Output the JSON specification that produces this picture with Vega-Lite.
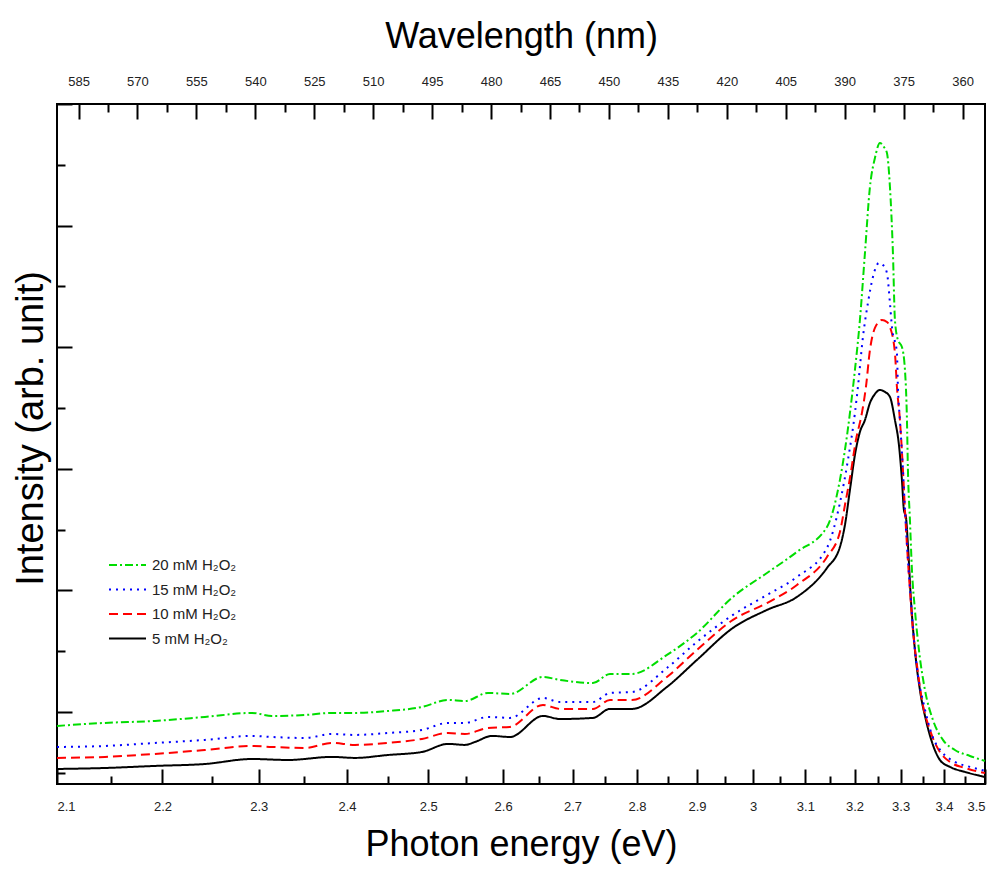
{
  "$schema": "https://vega.github.io/schema/vega-lite/v6.json",
  "width": 928,
  "height": 680,
  "autosize": "none",
  "padding": {"left": 57, "top": 104, "right": 14, "bottom": 86},
  "config": {
    "view": {"stroke": "#000000", "strokeWidth": 2},
    "font": "Liberation Sans",
    "axis": {
      "domain": false,
      "grid": false,
      "tickColor": "#000000",
      "tickWidth": 2,
      "labelFont": "Liberation Sans",
      "labelFontSize": 13,
      "labelColor": "#222222",
      "titleFont": "Liberation Sans",
      "titleFontSize": 36,
      "titleFontWeight": "normal",
      "titleColor": "#000000"
    }
  },
  "datasets": {
    "spectra": [
      {"s": "5 mM H₂O₂", "nm": 590.48, "I": -0.469},
      {"s": "5 mM H₂O₂", "nm": 578.26, "I": -0.461},
      {"s": "5 mM H₂O₂", "nm": 565.54, "I": -0.444},
      {"s": "5 mM H₂O₂", "nm": 552.81, "I": -0.428},
      {"s": "5 mM H₂O₂", "nm": 540.85, "I": -0.387},
      {"s": "5 mM H₂O₂", "nm": 531.69, "I": -0.395},
      {"s": "5 mM H₂O₂", "nm": 520.49, "I": -0.370},
      {"s": "5 mM H₂O₂", "nm": 514.64, "I": -0.378},
      {"s": "5 mM H₂O₂", "nm": 506.24, "I": -0.354},
      {"s": "5 mM H₂O₂", "nm": 497.59, "I": -0.329},
      {"s": "5 mM H₂O₂", "nm": 490.97, "I": -0.263},
      {"s": "5 mM H₂O₂", "nm": 486.64, "I": -0.271},
      {"s": "5 mM H₂O₂", "nm": 484.10, "I": -0.247},
      {"s": "5 mM H₂O₂", "nm": 479.77, "I": -0.197},
      {"s": "5 mM H₂O₂", "nm": 475.19, "I": -0.206},
      {"s": "5 mM H₂O₂", "nm": 466.79, "I": -0.033},
      {"s": "5 mM H₂O₂", "nm": 462.47, "I": -0.058},
      {"s": "5 mM H₂O₂", "nm": 454.07, "I": -0.049},
      {"s": "5 mM H₂O₂", "nm": 449.74, "I": 0.025},
      {"s": "5 mM H₂O₂", "nm": 444.14, "I": 0.025},
      {"s": "5 mM H₂O₂", "nm": 435.23, "I": 0.206},
      {"s": "5 mM H₂O₂", "nm": 427.60, "I": 0.428},
      {"s": "5 mM H₂O₂", "nm": 418.44, "I": 0.691},
      {"s": "5 mM H₂O₂", "nm": 409.78, "I": 0.839},
      {"s": "5 mM H₂O₂", "nm": 402.15, "I": 0.946},
      {"s": "5 mM H₂O₂", "nm": 394.51, "I": 1.184},
      {"s": "5 mM H₂O₂", "nm": 391.21, "I": 1.357},
      {"s": "5 mM H₂O₂", "nm": 389.93, "I": 1.538},
      {"s": "5 mM H₂O₂", "nm": 388.66, "I": 1.826},
      {"s": "5 mM H₂O₂", "nm": 387.39, "I": 2.114},
      {"s": "5 mM H₂O₂", "nm": 386.12, "I": 2.303},
      {"s": "5 mM H₂O₂", "nm": 384.84, "I": 2.401},
      {"s": "5 mM H₂O₂", "nm": 383.57, "I": 2.541},
      {"s": "5 mM H₂O₂", "nm": 382.30, "I": 2.615},
      {"s": "5 mM H₂O₂", "nm": 381.03, "I": 2.648},
      {"s": "5 mM H₂O₂", "nm": 379.75, "I": 2.632},
      {"s": "5 mM H₂O₂", "nm": 378.48, "I": 2.591},
      {"s": "5 mM H₂O₂", "nm": 377.21, "I": 2.401},
      {"s": "5 mM H₂O₂", "nm": 376.19, "I": 2.196},
      {"s": "5 mM H₂O₂", "nm": 375.43, "I": 1.908},
      {"s": "5 mM H₂O₂", "nm": 374.92, "I": 1.661},
      {"s": "5 mM H₂O₂", "nm": 374.41, "I": 1.604},
      {"s": "5 mM H₂O₂", "nm": 373.90, "I": 1.373},
      {"s": "5 mM H₂O₂", "nm": 373.14, "I": 0.921},
      {"s": "5 mM H₂O₂", "nm": 372.12, "I": 0.510},
      {"s": "5 mM H₂O₂", "nm": 370.85, "I": 0.181},
      {"s": "5 mM H₂O₂", "nm": 369.32, "I": -0.066},
      {"s": "5 mM H₂O₂", "nm": 367.54, "I": -0.271},
      {"s": "5 mM H₂O₂", "nm": 365.76, "I": -0.395},
      {"s": "5 mM H₂O₂", "nm": 363.21, "I": -0.452},
      {"s": "5 mM H₂O₂", "nm": 359.39, "I": -0.493},
      {"s": "5 mM H₂O₂", "nm": 354.29, "I": -0.535},

      {"s": "10 mM H₂O₂", "nm": 590.48, "I": -0.378},
      {"s": "10 mM H₂O₂", "nm": 578.26, "I": -0.370},
      {"s": "10 mM H₂O₂", "nm": 565.54, "I": -0.345},
      {"s": "10 mM H₂O₂", "nm": 552.81, "I": -0.313},
      {"s": "10 mM H₂O₂", "nm": 540.85, "I": -0.280},
      {"s": "10 mM H₂O₂", "nm": 535.76, "I": -0.288},
      {"s": "10 mM H₂O₂", "nm": 527.36, "I": -0.296},
      {"s": "10 mM H₂O₂", "nm": 520.49, "I": -0.255},
      {"s": "10 mM H₂O₂", "nm": 514.64, "I": -0.271},
      {"s": "10 mM H₂O₂", "nm": 506.24, "I": -0.255},
      {"s": "10 mM H₂O₂", "nm": 497.59, "I": -0.222},
      {"s": "10 mM H₂O₂", "nm": 490.97, "I": -0.173},
      {"s": "10 mM H₂O₂", "nm": 486.64, "I": -0.181},
      {"s": "10 mM H₂O₂", "nm": 480.79, "I": -0.132},
      {"s": "10 mM H₂O₂", "nm": 475.19, "I": -0.123},
      {"s": "10 mM H₂O₂", "nm": 466.79, "I": 0.058},
      {"s": "10 mM H₂O₂", "nm": 462.47, "I": 0.025},
      {"s": "10 mM H₂O₂", "nm": 454.07, "I": 0.025},
      {"s": "10 mM H₂O₂", "nm": 449.74, "I": 0.099},
      {"s": "10 mM H₂O₂", "nm": 444.14, "I": 0.099},
      {"s": "10 mM H₂O₂", "nm": 435.23, "I": 0.288},
      {"s": "10 mM H₂O₂", "nm": 427.60, "I": 0.510},
      {"s": "10 mM H₂O₂", "nm": 418.44, "I": 0.757},
      {"s": "10 mM H₂O₂", "nm": 409.78, "I": 0.896},
      {"s": "10 mM H₂O₂", "nm": 402.15, "I": 1.044},
      {"s": "10 mM H₂O₂", "nm": 394.51, "I": 1.275},
      {"s": "10 mM H₂O₂", "nm": 391.21, "I": 1.480},
      {"s": "10 mM H₂O₂", "nm": 389.93, "I": 1.702},
      {"s": "10 mM H₂O₂", "nm": 388.66, "I": 1.924},
      {"s": "10 mM H₂O₂", "nm": 387.13, "I": 2.237},
      {"s": "10 mM H₂O₂", "nm": 385.61, "I": 2.459},
      {"s": "10 mM H₂O₂", "nm": 384.59, "I": 2.673},
      {"s": "10 mM H₂O₂", "nm": 383.57, "I": 2.977},
      {"s": "10 mM H₂O₂", "nm": 382.30, "I": 3.158},
      {"s": "10 mM H₂O₂", "nm": 380.52, "I": 3.224},
      {"s": "10 mM H₂O₂", "nm": 379.24, "I": 3.207},
      {"s": "10 mM H₂O₂", "nm": 378.48, "I": 3.166},
      {"s": "10 mM H₂O₂", "nm": 377.21, "I": 2.952},
      {"s": "10 mM H₂O₂", "nm": 376.70, "I": 2.673},
      {"s": "10 mM H₂O₂", "nm": 375.94, "I": 2.401},
      {"s": "10 mM H₂O₂", "nm": 375.17, "I": 1.990},
      {"s": "10 mM H₂O₂", "nm": 374.66, "I": 1.661},
      {"s": "10 mM H₂O₂", "nm": 374.15, "I": 1.373},
      {"s": "10 mM H₂O₂", "nm": 373.39, "I": 1.003},
      {"s": "10 mM H₂O₂", "nm": 372.63, "I": 0.674},
      {"s": "10 mM H₂O₂", "nm": 371.61, "I": 0.387},
      {"s": "10 mM H₂O₂", "nm": 370.34, "I": 0.099},
      {"s": "10 mM H₂O₂", "nm": 368.30, "I": -0.148},
      {"s": "10 mM H₂O₂", "nm": 365.76, "I": -0.329},
      {"s": "10 mM H₂O₂", "nm": 363.21, "I": -0.411},
      {"s": "10 mM H₂O₂", "nm": 359.39, "I": -0.461},
      {"s": "10 mM H₂O₂", "nm": 354.29, "I": -0.502},

      {"s": "15 mM H₂O₂", "nm": 590.48, "I": -0.288},
      {"s": "15 mM H₂O₂", "nm": 578.26, "I": -0.280},
      {"s": "15 mM H₂O₂", "nm": 565.54, "I": -0.255},
      {"s": "15 mM H₂O₂", "nm": 552.81, "I": -0.230},
      {"s": "15 mM H₂O₂", "nm": 540.85, "I": -0.197},
      {"s": "15 mM H₂O₂", "nm": 535.76, "I": -0.206},
      {"s": "15 mM H₂O₂", "nm": 527.36, "I": -0.214},
      {"s": "15 mM H₂O₂", "nm": 520.49, "I": -0.181},
      {"s": "15 mM H₂O₂", "nm": 514.64, "I": -0.189},
      {"s": "15 mM H₂O₂", "nm": 506.24, "I": -0.173},
      {"s": "15 mM H₂O₂", "nm": 497.59, "I": -0.148},
      {"s": "15 mM H₂O₂", "nm": 490.97, "I": -0.090},
      {"s": "15 mM H₂O₂", "nm": 486.64, "I": -0.090},
      {"s": "15 mM H₂O₂", "nm": 480.79, "I": -0.041},
      {"s": "15 mM H₂O₂", "nm": 475.19, "I": -0.049},
      {"s": "15 mM H₂O₂", "nm": 466.79, "I": 0.115},
      {"s": "15 mM H₂O₂", "nm": 462.47, "I": 0.082},
      {"s": "15 mM H₂O₂", "nm": 454.07, "I": 0.082},
      {"s": "15 mM H₂O₂", "nm": 449.74, "I": 0.156},
      {"s": "15 mM H₂O₂", "nm": 444.14, "I": 0.164},
      {"s": "15 mM H₂O₂", "nm": 435.23, "I": 0.362},
      {"s": "15 mM H₂O₂", "nm": 427.60, "I": 0.576},
      {"s": "15 mM H₂O₂", "nm": 418.44, "I": 0.798},
      {"s": "15 mM H₂O₂", "nm": 409.78, "I": 0.962},
      {"s": "15 mM H₂O₂", "nm": 402.15, "I": 1.110},
      {"s": "15 mM H₂O₂", "nm": 394.51, "I": 1.349},
      {"s": "15 mM H₂O₂", "nm": 391.21, "I": 1.719},
      {"s": "15 mM H₂O₂", "nm": 389.17, "I": 2.072},
      {"s": "15 mM H₂O₂", "nm": 387.39, "I": 2.459},
      {"s": "15 mM H₂O₂", "nm": 386.63, "I": 2.673},
      {"s": "15 mM H₂O₂", "nm": 385.35, "I": 3.084},
      {"s": "15 mM H₂O₂", "nm": 384.08, "I": 3.364},
      {"s": "15 mM H₂O₂", "nm": 382.81, "I": 3.577},
      {"s": "15 mM H₂O₂", "nm": 381.28, "I": 3.693},
      {"s": "15 mM H₂O₂", "nm": 380.26, "I": 3.676},
      {"s": "15 mM H₂O₂", "nm": 379.24, "I": 3.610},
      {"s": "15 mM H₂O₂", "nm": 378.48, "I": 3.364},
      {"s": "15 mM H₂O₂", "nm": 377.97, "I": 3.166},
      {"s": "15 mM H₂O₂", "nm": 376.70, "I": 2.952},
      {"s": "15 mM H₂O₂", "nm": 376.45, "I": 2.673},
      {"s": "15 mM H₂O₂", "nm": 375.94, "I": 2.401},
      {"s": "15 mM H₂O₂", "nm": 375.17, "I": 1.990},
      {"s": "15 mM H₂O₂", "nm": 374.66, "I": 1.661},
      {"s": "15 mM H₂O₂", "nm": 373.90, "I": 1.250},
      {"s": "15 mM H₂O₂", "nm": 373.14, "I": 0.921},
      {"s": "15 mM H₂O₂", "nm": 372.37, "I": 0.592},
      {"s": "15 mM H₂O₂", "nm": 371.36, "I": 0.304},
      {"s": "15 mM H₂O₂", "nm": 369.83, "I": 0.058},
      {"s": "15 mM H₂O₂", "nm": 367.79, "I": -0.189},
      {"s": "15 mM H₂O₂", "nm": 365.25, "I": -0.329},
      {"s": "15 mM H₂O₂", "nm": 361.94, "I": -0.411},
      {"s": "15 mM H₂O₂", "nm": 358.12, "I": -0.452},
      {"s": "15 mM H₂O₂", "nm": 354.29, "I": -0.485},

      {"s": "20 mM H₂O₂", "nm": 590.48, "I": -0.115},
      {"s": "20 mM H₂O₂", "nm": 578.26, "I": -0.090},
      {"s": "20 mM H₂O₂", "nm": 565.54, "I": -0.074},
      {"s": "20 mM H₂O₂", "nm": 552.81, "I": -0.041},
      {"s": "20 mM H₂O₂", "nm": 540.85, "I": -0.008},
      {"s": "20 mM H₂O₂", "nm": 535.76, "I": -0.033},
      {"s": "20 mM H₂O₂", "nm": 527.36, "I": -0.025},
      {"s": "20 mM H₂O₂", "nm": 520.49, "I": -0.008},
      {"s": "20 mM H₂O₂", "nm": 514.64, "I": -0.008},
      {"s": "20 mM H₂O₂", "nm": 506.24, "I": 0.008},
      {"s": "20 mM H₂O₂", "nm": 497.59, "I": 0.041},
      {"s": "20 mM H₂O₂", "nm": 490.97, "I": 0.099},
      {"s": "20 mM H₂O₂", "nm": 486.64, "I": 0.090},
      {"s": "20 mM H₂O₂", "nm": 480.79, "I": 0.156},
      {"s": "20 mM H₂O₂", "nm": 475.19, "I": 0.148},
      {"s": "20 mM H₂O₂", "nm": 466.79, "I": 0.288},
      {"s": "20 mM H₂O₂", "nm": 462.47, "I": 0.263},
      {"s": "20 mM H₂O₂", "nm": 454.07, "I": 0.238},
      {"s": "20 mM H₂O₂", "nm": 449.74, "I": 0.313},
      {"s": "20 mM H₂O₂", "nm": 444.14, "I": 0.313},
      {"s": "20 mM H₂O₂", "nm": 435.23, "I": 0.469},
      {"s": "20 mM H₂O₂", "nm": 427.60, "I": 0.650},
      {"s": "20 mM H₂O₂", "nm": 418.44, "I": 0.946},
      {"s": "20 mM H₂O₂", "nm": 409.78, "I": 1.143},
      {"s": "20 mM H₂O₂", "nm": 402.15, "I": 1.316},
      {"s": "20 mM H₂O₂", "nm": 394.51, "I": 1.521},
      {"s": "20 mM H₂O₂", "nm": 391.21, "I": 1.908},
      {"s": "20 mM H₂O₂", "nm": 389.93, "I": 2.155},
      {"s": "20 mM H₂O₂", "nm": 388.66, "I": 2.459},
      {"s": "20 mM H₂O₂", "nm": 387.39, "I": 2.813},
      {"s": "20 mM H₂O₂", "nm": 386.12, "I": 3.224},
      {"s": "20 mM H₂O₂", "nm": 384.84, "I": 3.775},
      {"s": "20 mM H₂O₂", "nm": 383.57, "I": 4.318},
      {"s": "20 mM H₂O₂", "nm": 382.30, "I": 4.556},
      {"s": "20 mM H₂O₂", "nm": 381.03, "I": 4.679},
      {"s": "20 mM H₂O₂", "nm": 380.01, "I": 4.647},
      {"s": "20 mM H₂O₂", "nm": 379.24, "I": 4.597},
      {"s": "20 mM H₂O₂", "nm": 378.48, "I": 4.318},
      {"s": "20 mM H₂O₂", "nm": 377.72, "I": 3.775},
      {"s": "20 mM H₂O₂", "nm": 377.21, "I": 3.224},
      {"s": "20 mM H₂O₂", "nm": 376.45, "I": 3.059},
      {"s": "20 mM H₂O₂", "nm": 375.43, "I": 3.002},
      {"s": "20 mM H₂O₂", "nm": 374.66, "I": 2.813},
      {"s": "20 mM H₂O₂", "nm": 374.15, "I": 2.401},
      {"s": "20 mM H₂O₂", "nm": 373.90, "I": 1.990},
      {"s": "20 mM H₂O₂", "nm": 373.39, "I": 1.579},
      {"s": "20 mM H₂O₂", "nm": 372.88, "I": 1.168},
      {"s": "20 mM H₂O₂", "nm": 372.12, "I": 0.839},
      {"s": "20 mM H₂O₂", "nm": 371.10, "I": 0.510},
      {"s": "20 mM H₂O₂", "nm": 369.57, "I": 0.181},
      {"s": "20 mM H₂O₂", "nm": 367.54, "I": -0.066},
      {"s": "20 mM H₂O₂", "nm": 364.99, "I": -0.230},
      {"s": "20 mM H₂O₂", "nm": 361.94, "I": -0.313},
      {"s": "20 mM H₂O₂", "nm": 358.12, "I": -0.362},
      {"s": "20 mM H₂O₂", "nm": 354.29, "I": -0.403}
    ]
  },
  "data": {"name": "spectra"},
  "layer": [
    {
      "mark": {"type": "line", "strokeWidth": 2, "interpolate": "monotone"},
      "encoding": {
        "x": {
          "field": "nm", "type": "quantitative",
          "scale": {"domain": [354.286, 590.476], "reverse": true, "nice": false, "zero": false},
          "axis": {
            "orient": "bottom",
            "values": [590.476, 563.636, 539.130, 516.667, 496.000, 476.923, 459.259, 442.857, 427.586, 413.333, 400.000, 387.500, 375.758, 364.706, 354.286],
            "labelExpr": "format(1240 / datum.value, '.1~f')",
            "ticks": true,
            "tickSize": 15,
            "tickColor": "#000000",
            "tickOpacity": 1,
            "tickWidth": 2,
            "offset": -15,
            "labelPadding": 16,
            "title": "Photon energy (eV)",
            "titlePadding": 14
          }
        },
        "y": {
          "field": "I", "type": "quantitative",
          "scale": {"domain": [-0.5926, 5.0], "nice": false, "zero": false},
          "axis": {
            "orient": "left",
            "values": [0, 1, 2, 3, 4, 5],
            "labels": false,
            "tickSize": -15,
            "title": "Intensity (arb. unit)",
            "titleFontSize": 38,
            "titleY": 324,
            "titlePadding": 6
          }
        },
        "color": {
          "field": "s", "type": "nominal",
          "scale": {
            "domain": ["20 mM H₂O₂", "15 mM H₂O₂", "10 mM H₂O₂", "5 mM H₂O₂"],
            "range": ["#00dd00", "#0000ff", "#ff0000", "#000000"]
          },
          "legend": {
            "orient": "none", "legendX": 51, "legendY": 451, "title": null,
            "symbolType": "stroke", "symbolSize": 1369, "symbolStrokeWidth": 2,
            "labelFont": "Liberation Sans", "labelFontSize": 15, "labelColor": "#222222",
            "clipHeight": 20, "rowPadding": 4.5, "padding": 0, "labelOffset": 5
          }
        },
        "strokeDash": {
          "field": "s", "type": "nominal",
          "scale": {
            "domain": ["20 mM H₂O₂", "15 mM H₂O₂", "10 mM H₂O₂", "5 mM H₂O₂"],
            "range": [[8, 3, 2, 3], [2, 5], [9, 5], [1, 0]]
          },
          "legend": {
            "orient": "none", "legendX": 51, "legendY": 451, "title": null,
            "symbolType": "stroke", "symbolSize": 1369, "symbolStrokeWidth": 2,
            "labelFont": "Liberation Sans", "labelFontSize": 15, "labelColor": "#222222",
            "clipHeight": 20, "rowPadding": 4.5, "padding": 0, "labelOffset": 5
          }
        }
      }
    },
    {
      "mark": {"type": "point", "opacity": 0},
      "encoding": {
        "x": {
          "field": "nm", "type": "quantitative",
          "scale": {"domain": [354.286, 590.476], "reverse": true, "nice": false, "zero": false},
          "axis": {
            "orient": "bottom",
            "values": [576.744, 551.111, 527.660, 506.122, 486.275, 467.925, 450.909, 435.088, 420.339, 406.557, 393.651, 381.538, 370.149, 359.420],
            "labels": false,
            "ticks": true,
            "tickSize": 8,
            "tickColor": "#000000",
            "tickOpacity": 1,
            "tickWidth": 2,
            "offset": -8,
            "title": null
          }
        },
        "y": {
          "field": "I", "type": "quantitative",
          "scale": {"domain": [-0.5926, 5.0], "nice": false, "zero": false},
          "axis": {
            "orient": "left",
            "values": [-0.5, 0.5, 1.5, 2.5, 3.5, 4.5],
            "labels": false, "tickSize": -8, "title": null
          }
        }
      }
    },
    {
      "mark": {"type": "point", "opacity": 0},
      "encoding": {
        "x": {
          "field": "nm", "type": "quantitative",
          "scale": {"domain": [354.286, 590.476], "reverse": true, "nice": false, "zero": false},
          "axis": {
            "orient": "top",
            "values": [585, 570, 555, 540, 525, 510, 495, 480, 465, 450, 435, 420, 405, 390, 375, 360],
            "format": "d",
            "ticks": true,
            "tickSize": 15,
            "tickColor": "#000000",
            "tickOpacity": 1,
            "tickWidth": 2,
            "offset": -15,
            "labelPadding": 16,
            "title": "Wavelength (nm)",
            "titlePadding": 20
          }
        },
        "y": {
          "field": "I", "type": "quantitative",
          "scale": {"domain": [-0.5926, 5.0], "nice": false, "zero": false},
          "axis": null
        }
      }
    },
    {
      "mark": {"type": "point", "opacity": 0},
      "encoding": {
        "x": {
          "field": "nm", "type": "quantitative",
          "scale": {"domain": [354.286, 590.476], "reverse": true, "nice": false, "zero": false},
          "axis": {
            "orient": "top",
            "values": [577.5, 562.5, 547.5, 532.5, 517.5, 502.5, 487.5, 472.5, 457.5, 442.5, 427.5, 412.5, 397.5, 382.5, 367.5],
            "labels": false,
            "ticks": true,
            "tickSize": 8,
            "tickColor": "#000000",
            "tickOpacity": 1,
            "tickWidth": 2,
            "offset": -8,
            "title": null
          }
        },
        "y": {
          "field": "I", "type": "quantitative",
          "scale": {"domain": [-0.5926, 5.0], "nice": false, "zero": false},
          "axis": null
        }
      }
    }
  ],
  "resolve": {"axis": {"x": "independent", "y": "independent"}}
}
